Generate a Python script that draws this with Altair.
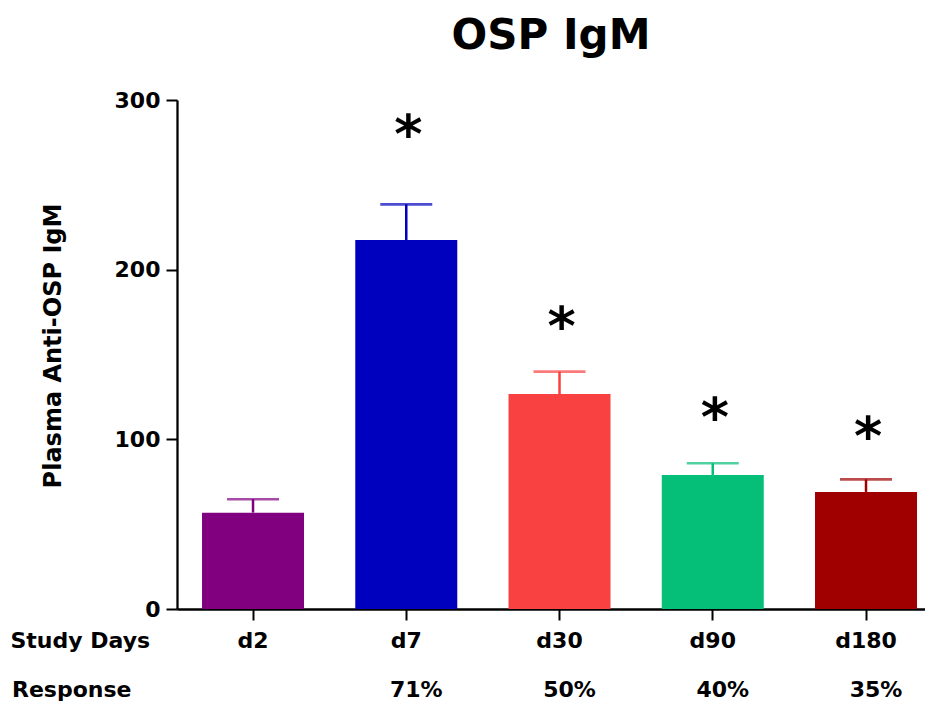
import altair as alt
import pandas as pd

# ---- data ----
days = ["d2", "d7", "d30", "d90", "d180"]
mean_igm = [56.8, 217.5, 126.7, 79.0, 69.0]
upper_igm = [64.7, 238.5, 139.9, 85.9, 76.4]
bar_colors = ["#800080", "#0000BF", "#F94141", "#05BF78", "#A00000"]
response = ["", "71%", "50%", "40%", "35%"]
significance = ["", "*", "*", "*", "*"]
star_level = [None, 284, 171, 117, 106]
y_ticks = [0, 100, 200, 300]

df = pd.DataFrame({
    "day": days,
    "mean": mean_igm,
    "upper": upper_igm,
    "response": response,
})
df_star = pd.DataFrame({"day": days, "sig": significance, "star": star_level}).dropna()
df_label = pd.DataFrame({"label": ["Response"]})

FONT = "DejaVu Sans"
Y_TITLE = "Plasma Anti-OSP IgM"

x_scale = alt.Scale(domain=days, paddingInner=0.3344, paddingOuter=0.1077, align=0.758)
y_scale = alt.Scale(domain=[0, 300], nice=False, zero=True)
color_enc = alt.Color("day:N", scale=alt.Scale(domain=days, range=bar_colors), legend=None)

x_enc = alt.X(
    "day:N", sort=days, scale=x_scale,
    axis=alt.Axis(
        title="Study Days", titleX=-167, titleY=38, titleAlign="left",
        titleBaseline="alphabetic", titleAngle=0, titleFontSize=22,
        titleFontWeight="bold", titleColor="black",
        labelFontSize=22, labelFontWeight="bold", labelAngle=0,
        labelBaseline="alphabetic", labelPadding=27, labelColor="black",
        tickSize=11, tickWidth=2, tickColor="black",
        domainWidth=2.3, domainColor="black",
    ),
)
x_plain = alt.X("day:N", sort=days, scale=x_scale)

y_axis = alt.Axis(
    values=y_ticks, grid=False, title=Y_TITLE,
    titleX=-117, titleY=245.5, titleAngle=-90, titleAlign="center",
    titleBaseline="alphabetic", titleFontSize=24, titleFontWeight="bold",
    titleColor="black",
    labelFontSize=22, labelFontWeight="bold", labelPadding=6, labelColor="black",
    tickSize=11, tickWidth=2, tickColor="black",
    domainWidth=2.3, domainColor="black",
)

bars = alt.Chart(df).mark_bar().encode(
    x=x_enc,
    y=alt.Y("mean:Q", scale=y_scale, axis=y_axis, title=Y_TITLE),
    color=color_enc,
)

err_rule = alt.Chart(df).mark_rule(strokeWidth=2.5).encode(
    x=x_plain,
    y=alt.Y("mean:Q", scale=y_scale, title=Y_TITLE),
    y2="upper:Q",
    color=color_enc,
)

err_cap = alt.Chart(df).mark_tick(size=52, thickness=2.7).encode(
    x=x_plain,
    y=alt.Y("upper:Q", scale=y_scale, title=Y_TITLE),
    color=color_enc,
)

stars = alt.Chart(df_star).mark_text(
    fontSize=54, fontWeight="bold", baseline="alphabetic", dx=2, dy=26, color="black", font=FONT
).encode(
    x=x_plain,
    y=alt.Y("star:Q", scale=y_scale, title=Y_TITLE),
    text="sig:N",
)

resp_text = alt.Chart(df).mark_text(
    fontSize=22, fontWeight="bold", baseline="alphabetic", dx=10, color="black", font=FONT
).encode(
    x=x_plain,
    y=alt.value(597),
    text="response:N",
)

resp_label = alt.Chart(df_label).mark_text(
    fontSize=22, fontWeight="bold", baseline="alphabetic", align="left", color="black", font=FONT
).encode(
    x=alt.value(-165),
    y=alt.value(597),
    text="label:N",
)

chart = alt.layer(bars, err_rule, err_cap, stars, resp_text, resp_label).properties(
    width=748,
    height=509,
    title=alt.TitleParams("OSP IgM", fontSize=42, fontWeight="bold", anchor="middle",
                          color="black", font=FONT, offset=31),
    autosize=alt.AutoSizeParams(type="none"),
    padding={"left": 169, "top": 92, "right": 0, "bottom": 94},
).configure(
    font=FONT,
).configure_view(
    stroke=None,
)

chart.save("out.html", embed_options={"renderer": "svg", "actions": False})
